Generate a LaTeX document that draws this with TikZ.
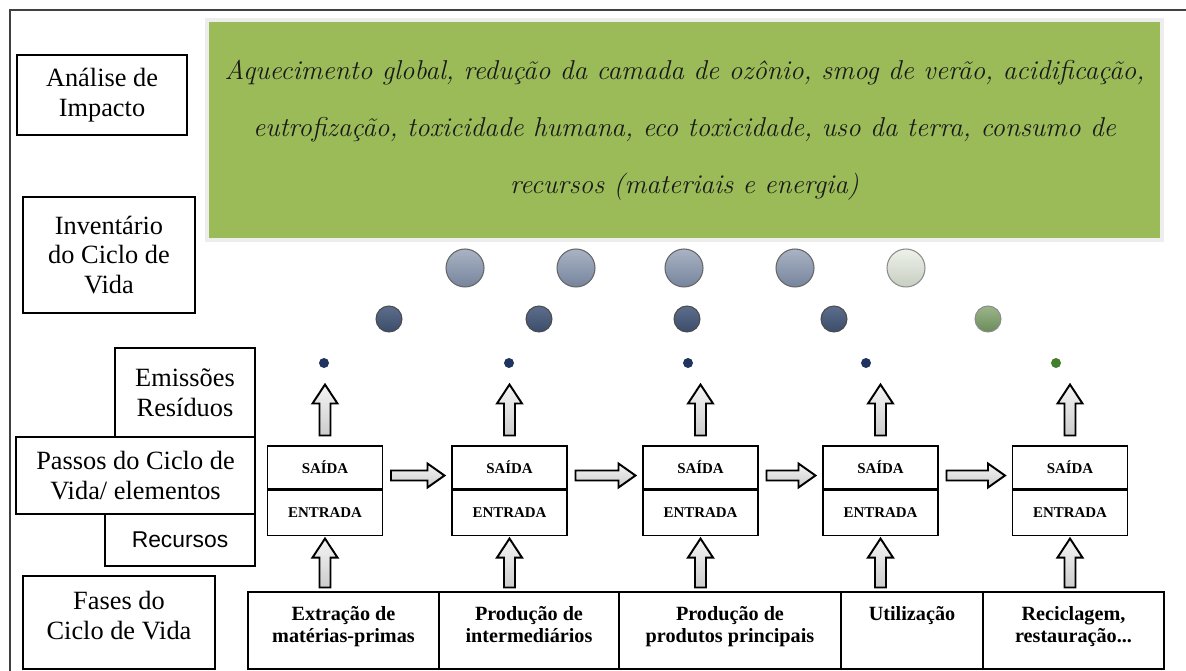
\documentclass[tikz,border=0pt]{standalone}
\usepackage{fontspec}
\newfontfamily\timesf{LiberationSerif}[Extension=.ttf, UprightFont=*-Regular, BoldFont=*-Bold, ItalicFont=*-Italic]
\newfontfamily\arialf{Liberation Sans}
\usetikzlibrary{positioning,calc,fit}

\definecolor{impgreen}{HTML}{9BBB59}
\definecolor{navydot}{HTML}{1F3560}
\definecolor{greendot}{HTML}{437F2E}
\definecolor{bigtop}{HTML}{A9B3C4}
\definecolor{bigbot}{HTML}{76849C}
\definecolor{midtop}{HTML}{5D6D8C}
\definecolor{midbot}{HTML}{3C4C6B}
\definecolor{palegtop}{HTML}{EEF1EA}
\definecolor{palegbot}{HTML}{C6CFC0}
\definecolor{olivetop}{HTML}{9CB58B}
\definecolor{olivebot}{HTML}{6A8C59}

% block arrows, drawn between two points
\newcommand{\blkup}[2]{%
	\draw[blockarrow] let \p1 = #1, \p2 = #2 in
	(\x1-0.11cm,\y1) -- (\x1-0.11cm,\y2-0.38cm) -- (\x1-0.25cm,\y2-0.38cm) --
	(\x1,\y2) -- (\x1+0.25cm,\y2-0.38cm) -- (\x1+0.11cm,\y2-0.38cm) --
	(\x1+0.11cm,\y1) -- cycle;}
\newcommand{\blkright}[2]{%
	\draw[blockarrow] let \p1 = #1, \p2 = #2 in
	(\x1,\y1-0.1cm) -- (\x2-0.34cm,\y1-0.1cm) -- (\x2-0.34cm,\y1-0.24cm) --
	(\x2,\y1) -- (\x2-0.34cm,\y1+0.24cm) -- (\x2-0.34cm,\y1+0.1cm) --
	(\x1,\y1+0.1cm) -- cycle;}

\begin{document}
\begin{tikzpicture}[
			x = 0.02cm, y = -0.02cm,
			lbox/.style = {draw, line width=0.6pt, align=center, inner sep=0pt, font={\timesf\fontsize{15}{17}\selectfont}},
			stepbox/.style = {draw, line width=0.6pt, minimum width=2.3cm, inner sep=0pt, font={\timesf\bfseries\fontsize{8.5}{10}\selectfont}},
			phbox/.style = {draw, line width=0.6pt, inner sep=0pt},
			phtxt/.style = {align=center, inner sep=0pt, font={\timesf\bfseries\fontsize{11.5}{12.5}\selectfont}},
			blockarrow/.style = {draw=black, line width=1.1pt, line join=miter, top color=gray!8, bottom color=gray!40},
			ball/.style = {circle, inner sep=0pt, line width=0.6pt},
		]

		\useasboundingbox (0,0) rectangle (1186,671);
		\draw[black!75, line width=1.2pt] (10,671) -- (10,10) -- (1186,10);

		% impact categories
		\node[fill=impgreen, draw=black!7, line width=2.5pt, minimum width=19.1cm, minimum height=4.4cm,
			align=center, text=black!90, font={\itshape\fontsize{15.5}{32.4}\selectfont}] (cat) at (684.5,130)
			{Aquecimento global, redução da camada de ozônio, smog de verão, acidificação,\\
			eutrofização, toxicidade humana, eco toxicidade, uso da terra, consumo de\\
			recursos (materiais e energia)};

		% left labels
		\node[lbox, minimum width=3.4cm, minimum height=1.6cm] (imp) at (102,95) {Análise de\\Impacto};
		\node[lbox, minimum width=3.44cm, minimum height=2.32cm] (inv) at (109,255) {Inventário\\do Ciclo de\\Vida};
		\node[lbox, minimum width=2.8cm, minimum height=1.78cm] (emi) at (185,392.5) {Emissões\\Resíduos};
		\node[lbox, minimum width=4.78cm, minimum height=1.54cm] (pas) at (135.5,475.5) {Passos do Ciclo de\\Vida/ elementos};
		\node[lbox, minimum width=3cm, minimum height=1.04cm, font={\arialf\fontsize{13}{15}\selectfont}] (rec) at (180,540) {Recursos};
		\node[lbox, minimum width=3.84cm, minimum height=1.86cm] (fas) at (119,622.5) {};
		\node[lbox, draw=none, below=0.3cm of fas.north] (fastxt) {Fases do\\Ciclo de Vida};

		% circles
		\foreach \x [count=\n] in {465,576,684,795}
			\node[ball, draw=black!60, top color=bigtop, bottom color=bigbot, minimum size=0.76cm] (big\n) at (\x,268) {};
		\node[ball, draw=black!45, top color=palegtop, bottom color=palegbot, minimum size=0.76cm] (big5) at (906,268) {};
		\foreach \x [count=\n] in {389,539,687,834}
			\node[ball, draw=black!70, top color=midtop, bottom color=midbot, minimum size=0.52cm] (mid\n) at (\x,319) {};
		\node[ball, draw=black!45, top color=olivetop, bottom color=olivebot, minimum size=0.52cm] (mid5) at (988,319) {};

		% life cycle steps
		\foreach \i/\bx/\dx in {1/325/324, 2/509.5/509, 3/700.5/688, 4/880.5/866} {
			\node[stepbox, minimum height=0.86cm] (sai\i) at (\bx,467.5) {SAÍDA};
			\node[stepbox, minimum height=0.9cm, below=0pt of sai\i] (ent\i) {ENTRADA};
			\node[ball, fill=navydot, minimum size=0.2cm] (dot\i) at (\dx,363) {};
		}
		\node[stepbox, minimum height=0.86cm] (sai5) at (1070,467.5) {SAÍDA};
		\node[stepbox, minimum height=0.9cm, below=0pt of sai5] (ent5) {ENTRADA};
		\node[ball, fill=greendot, minimum size=0.2cm] (dot5) at (1056,363) {};

		% life cycle phases
		\foreach \i/\xl/\xr/\txt in {1/248/439/{Extração de\\matérias-primas}, 2/439/619/{Produção de\\intermediários},
			3/619/841/{Produção de\\produtos principais}, 4/841/983/{Utilização}, 5/983/1164/{Reciclagem,\\restauração...}} {
			\node[phbox, fit={(\xl,592) (\xr,669)}] (ph\i) {};
			\node[phtxt, below=0.3cm of ph\i.north] (pht\i) {\txt};
		}

		% arrows
		\foreach \i in {1,...,5} {
			\blkup{($(ph\i.north -| ent\i.south)+(0,0.08cm)$)}{([yshift=-0.06cm]ent\i.south)}
			\blkup{([yshift=0.2cm]sai\i.north)}{([yshift=-0.32cm]dot\i.south)}
		}
		\foreach \i/\j in {1/2, 2/3, 3/4, 4/5} {
			\blkright{([xshift=0.16cm,yshift=0.28cm]sai\i.south east)}{([xshift=-0.14cm,yshift=0.28cm]sai\j.south west)}
		}

\end{tikzpicture}
\end{document}
